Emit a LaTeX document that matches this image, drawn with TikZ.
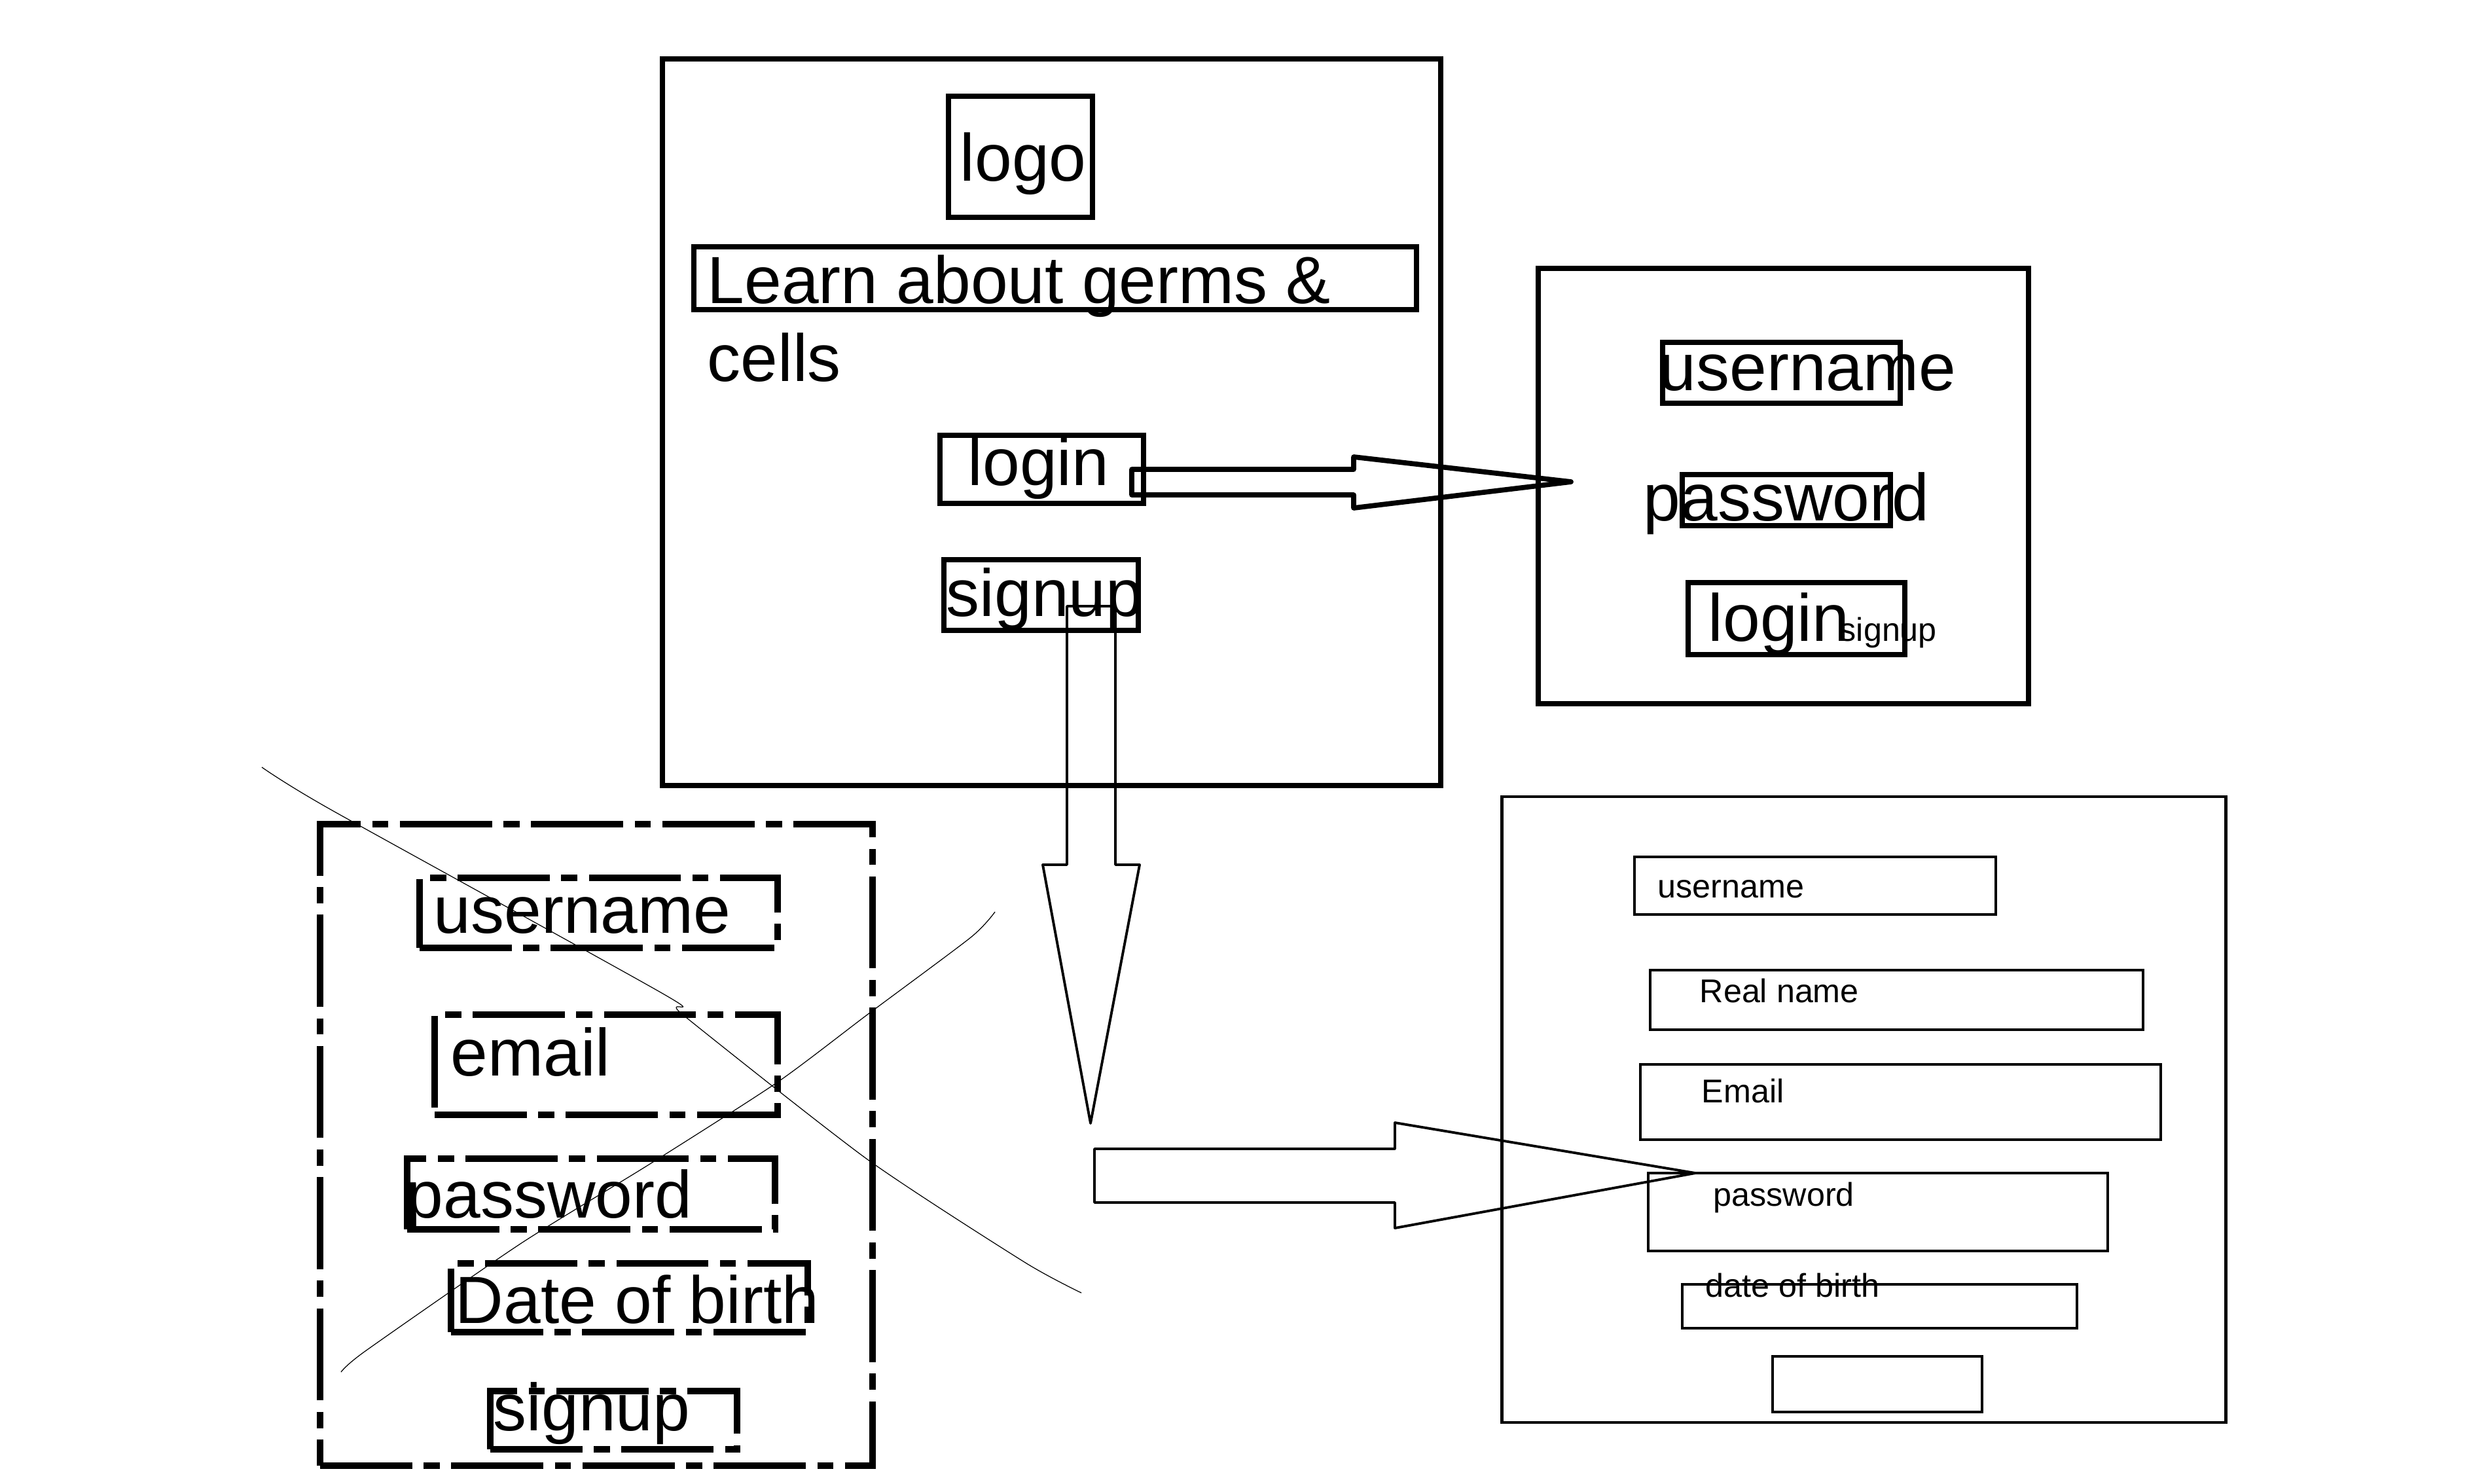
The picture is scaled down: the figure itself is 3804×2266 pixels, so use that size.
\documentclass[tikz,border=0pt]{standalone}
\usepackage{fontspec}
\setmainfont{Liberation Sans}
\usetikzlibrary{positioning}

\tikzset{
  wbox/.style 2 args={draw, inner sep=0pt, minimum width=#1*0.01cm, minimum height=#2*0.01cm},
  heavy/.style={line width=2.5pt},
  light/.style={line width=1.3pt},
  crossed/.style={line width=2.6pt, dash pattern=on 40pt off 5pt on 7pt off 5pt},
  bigtxt/.style={font=\fontsize{29}{34.5}\selectfont, inner sep=0pt, anchor=base west},
  smalltxt/.style={font=\fontsize{14.3}{17}\selectfont, inner sep=0pt, anchor=base west},
  scribble/.style={line width=0.35pt},
  blockarrow/.style={line join=round},
}

\begin{document}
\begin{tikzpicture}[x=0.01cm, y=-0.01cm]
    \useasboundingbox (0,0) rectangle (3804,2266);

    % Home screen
    \node[wbox={1189}{1110}, heavy] (home) at (1606.5,645) {};
    \node[wbox={220}{185}, heavy] (logobox) at (1559,239.5) {};
    \node[wbox={1104}{96}, heavy] (titlebox) at (1612,425) {};
    \node[wbox={311}{104}, heavy] (loginbox) at (1591.5,717) {};
    \node[wbox={297}{108}, heavy] (signupbox) at (1590.5,909) {};
    \node[bigtxt] (logo) at (1466,276) {logo};
    \node[bigtxt] (title) at (1080,463) {Learn about germs \&};
    \node[bigtxt] (cells) at (1080,582) {cells};
    \node[bigtxt] (login) at (1478,741) {login};
    \node[bigtxt] (signup) at (1445,941) {signup};

    % Login screen
    \node[wbox={749}{665}, heavy] (loginscr) at (2724.5,742.5) {};
    \node[wbox={363}{93}, heavy] (lusrbox) at (2721.5,569.5) {};
    \node[wbox={318}{78}, heavy] (lpwdbox) at (2729,764) {};
    \node[wbox={331}{110}, heavy] (lbtnbox) at (2744.5,945) {};
    \node[bigtxt] (lusr) at (2534,596) {username};
    \node[bigtxt] (lpwd) at (2510,795) {password};
    \node[bigtxt] (lbtn) at (2609,979) {login};
    \node[smalltxt] (lsign) at (2810,979) {signup};

    % Old signup form (crossed out)
    \node[wbox={844}{980}, crossed] (oldform) at (911,1749) {};
    \node[wbox={547}{107}, crossed] (ousrbox) at (914.5,1394.5) {};
    \node[wbox={524}{153}, crossed] (omailbox) at (926,1626.5) {};
    \node[wbox={562}{108}, crossed] (opwdbox) at (903,1824) {};
    \node[wbox={545}{105}, crossed] (odobbox) at (961.5,1982.5) {};
    \node[wbox={377}{89}, crossed] (osignbox) at (937.5,2169.5) {};
    \node[bigtxt] (ousr) at (662,1425) {username};
    \node[bigtxt] (omail) at (688,1643) {email};
    \node[bigtxt] (opwd) at (620,1860) {password};
    \node[bigtxt] (odob) at (695,2021) {Date of birth};
    \node[bigtxt] (osign) at (753,2185) {signup};
    \draw[scribble] plot[smooth, tension=0.4] coordinates {(400,1172) (504,1236) (1018,1521)
        (1043,1550) (1325,1771) (1565,1928) (1652,1975)};
    \draw[scribble] plot[smooth, tension=0.4] coordinates {(1520,1393) (1483,1432) (1325,1550)
        (1188,1653) (993,1778) (795,1900) (558,2064) (521,2096)};

    % Signup screen
    \node[wbox={1106}{956}, light] (signupscr) at (2847.5,1695) {};
    \node[wbox={552}{88}, light] (susrbox) at (2773,1353) {};
    \node[wbox={753}{91}, light] (srealbox) at (2897.5,1527.5) {};
    \node[wbox={795}{115}, light] (smailbox) at (2903.5,1683.5) {};
    \node[wbox={702}{119}, light] (spwdbox) at (2869,1851.5) {};
    \node[wbox={603}{67}, light] (sdobbox) at (2871.5,1995.5) {};
    \node[wbox={320}{85}, light] (sbtnbox) at (2868,2114.5) {};
    \node[smalltxt] (susr) at (2532,1371) {username};
    \node[smalltxt] (sreal) at (2596,1531) {Real name};
    \node[smalltxt] (smail) at (2599,1684) {Email};
    \node[smalltxt] (spwd) at (2617,1842) {password};
    \node[smalltxt] (sdob) at (2605,1981) {date of birth};

    % Block arrows
    \draw[blockarrow, line width=2.2pt] (1729,717) -- (2068,717) -- (2068,698) -- (2400,736)
        -- (2068,776) -- (2068,756) -- (1729,756) -- cycle;
    \draw[blockarrow, line width=1.1pt] (1630,926) -- (1704,926) -- (1704,1321) -- (1741,1321)
        -- (1666,1716) -- (1593,1321) -- (1630,1321) -- cycle;
    \draw[blockarrow, line width=1.1pt] (1672,1755) -- (2131,1755) -- (2131,1715) -- (2590,1792)
        -- (2131,1876) -- (2131,1837) -- (1672,1837) -- cycle;

\end{tikzpicture}
\end{document}
